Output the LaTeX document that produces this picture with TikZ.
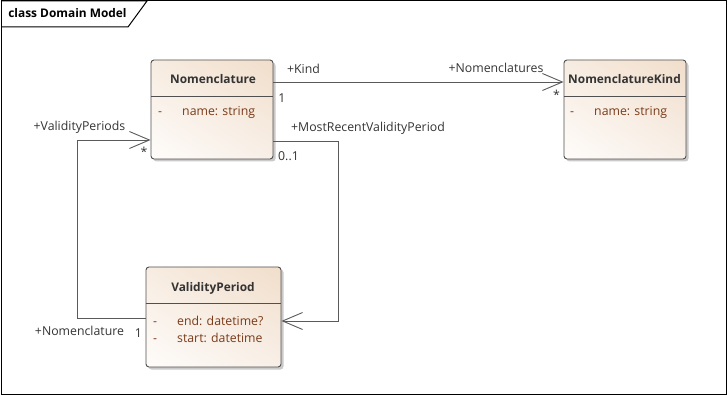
\documentclass[tikz,border=0pt]{standalone}
\usepackage{fontspec}
\setmainfont{Open Sans}
\usetikzlibrary{arrows.meta,shadows,shadings,calc}
\definecolor{boxline}{HTML}{505050}
\definecolor{conline}{HTML}{5A5A5A}
\definecolor{lbltext}{HTML}{333333}
\definecolor{attrtext}{HTML}{7A3A18}
\definecolor{fillUR}{HTML}{F1DECB}
\definecolor{fillUL}{HTML}{F7ECE1}
\definecolor{fillLR}{HTML}{F8EFE7}
\definecolor{fillLL}{HTML}{FEFCFA}
\tikzset{
  cls/.style={draw=boxline, line width=0.9pt, rounded corners=3pt, inner sep=0pt,
    upper right=fillUR, upper left=fillUL, lower right=fillLR, lower left=fillLL,
    drop shadow={shadow xshift=2.5pt, shadow yshift=-2.5pt, opacity=0.35, fill=black!60}},
  divider/.style={draw=boxline, line width=0.9pt},
  ctitle/.style={inner sep=0pt, text=lbltext, font=\fontsize{11.9}{13}\selectfont\bfseries},
  attr/.style={inner sep=0pt, anchor=west, text height=9pt, text depth=3pt, text=attrtext, font=\fontsize{12.3}{13}\selectfont},
  lbl/.style={inner sep=0pt, text=lbltext, font=\fontsize{12.3}{13}\selectfont},
  assoc/.style={draw=conline, line width=0.9pt, -{Straight Barb[length=20pt,width=17pt,line width=0.9pt]}},
}
\begin{document}
\begin{tikzpicture}[x=1pt,y=-1pt]
\useasboundingbox (0,0) rectangle (728,395);
% frame
\node[draw=black, line width=1pt, minimum width=725pt, minimum height=393pt, inner sep=0pt] (frame) at (363.5,197.5) {};
\draw[black, line width=1pt] (1,1) -- (147,1) -- (128,27) -- (1,27);
\node[inner sep=0pt, text=black, font=\fontsize{11.9}{13}\selectfont\bfseries] (ftitle) at (67.5,13.5) {class Domain Model};

% classes
\node[cls, minimum width=122pt, minimum height=99pt] (nom) at (212,109.5) {};
\draw[divider] ([yshift=-37pt]nom.north west) -- ([yshift=-37pt]nom.north east);
\node[ctitle] (nomT) at (213,79.5) {Nomenclature};
\node[attr] (nomA1) at (158,112.5) {-};
\node[attr] (nomA2) at (182,112.5) {name: string};

\node[cls, minimum width=122pt, minimum height=99pt] (kind) at (625,109.5) {};
\draw[divider] ([yshift=-37pt]kind.north west) -- ([yshift=-37pt]kind.north east);
\node[ctitle] (kindT) at (624.5,79.5) {NomenclatureKind};
\node[attr] (kindA1) at (570,112.5) {-};
\node[attr] (kindA2) at (594,112.5) {name: string};

\node[cls, minimum width=135pt, minimum height=100pt] (vp) at (213.5,317) {};
\draw[divider] ([yshift=-37pt]vp.north west) -- ([yshift=-37pt]vp.north east);
\node[ctitle] (vpT) at (213,288.5) {ValidityPeriod};
\node[attr] (vpA1) at (153,322) {-};
\node[attr] (vpA2) at (177,322) {end: datetime?};
\node[attr] (vpA3) at (153,339) {-};
\node[attr] (vpA4) at (177,339) {start: datetime};

% connectors
\draw[assoc] ([yshift=27.5pt]nom.east) -- ([yshift=27.5pt]kind.west);
\coordinate (b2) at (77,140);
\draw[assoc] ([yshift=-1pt]vp.west) -| (b2) -- ([yshift=-30.5pt]nom.west);
\coordinate (b3a) at (338,141);
\coordinate (b3b) at (338,321);
\draw[assoc] ([yshift=-31.5pt]nom.east) -- (b3a) -- (b3b) -- ([yshift=-4pt]vp.east);

% labels
\node[lbl] (l1) at (303.5,69) {+Kind};
\node[lbl] (l2) at (282,98) {1};
\node[lbl] (l3) at (496,67.5) {+Nomenclatures};
\node[lbl] (l4) at (556.5,95) {*};
\node[lbl] (l5) at (368,128) {+MostRecentValidityPeriod};
\node[lbl] (l6) at (288.5,156) {0..1};
\node[lbl] (l7) at (79.5,127) {+ValidityPeriods};
\node[lbl] (l8) at (144,152) {*};
\node[lbl] (l9) at (79.5,330.5) {+Nomenclature};
\node[lbl] (l10) at (138.5,333) {1};
\end{tikzpicture}
\end{document}
